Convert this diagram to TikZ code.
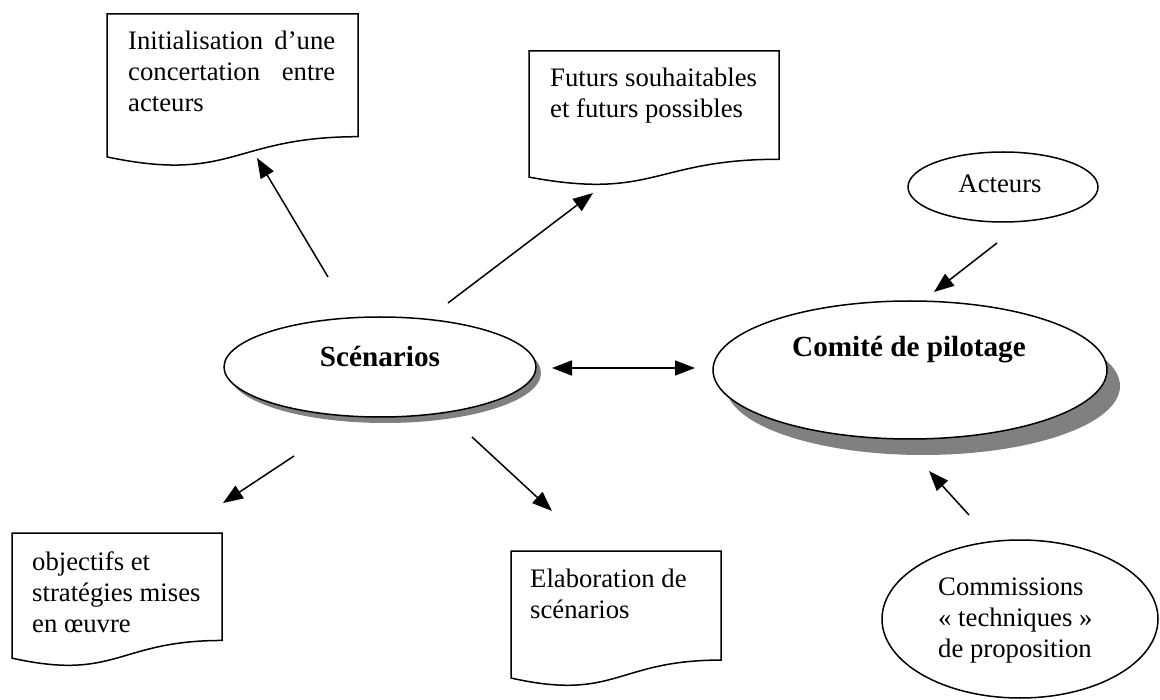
\documentclass[tikz,border=0pt]{standalone}
\usepackage{fontspec}
\setmainfont{Liberation Serif}
\usetikzlibrary{shapes.geometric,arrows.meta}

% Flowchart "document" outline: x, y (top left), width, height
\newcommand\docshape[4]{%
  \draw[docline] (#1,#2) -- ({#1+#3},#2) -- ({#1+#3},{#2+0.802*#4})
    .. controls ({#1+0.5*#3},{#2+0.802*#4}) and ({#1+0.5*#3},{#2+1.1075*#4})
    .. (#1,{#2+0.934*#4}) -- cycle;}

\begin{document}
\begin{tikzpicture}[x=1pt,y=-1pt,
  docline/.style={line width=1.5pt, line join=miter},
  txt/.style={anchor=base west, inner sep=0pt, font=\fontsize{26.7}{31}\selectfont},
  bubble/.style={ellipse, draw, line width=1.5pt, fill=white, inner sep=0pt},
  shade/.style={ellipse, fill=black!50, draw=none, inner sep=0pt},
  title/.style={anchor=base, inner sep=0pt, font=\fontsize{29.2}{34}\selectfont\bfseries},
  arr/.style={line width=1.5pt, -{Triangle[length=20pt,width=15pt]}},
  darr/.style={line width=1.5pt, {Triangle[length=20pt,width=15pt]}-{Triangle[length=20pt,width=15pt]}},
]
\useasboundingbox (0,0) rectangle (1160,700);

% document boxes
\docshape{107}{14}{251}{153}
\node[txt] (init) at (128,50) {\parbox[t]{207pt}{Initialisation\hfill d’une\\concertation\hfill entre\\acteurs}};

\docshape{529}{51}{250}{135}
\node[txt] (futurs) at (550,87) {\parbox[t]{215pt}{Futurs souhaitables\\et futurs possibles}};

\docshape{12}{533}{210}{134}
\node[txt] (objectifs) at (32,570) {\parbox[t]{180pt}{objectifs et\\stratégies mises\\en œuvre}};

\docshape{511}{551}{210}{136}
\node[txt] (elab) at (530,587) {\parbox[t]{180pt}{Elaboration de\\scénarios}};

% ellipses
\node[shade, minimum width=312pt, minimum height=100pt] (scenS) at (385,373) {};
\node[bubble, minimum width=312pt, minimum height=100pt] (scen) at (380,367) {};
\node[title] (scenT) at (380,367) {Scénarios};

\node[shade, minimum width=394pt, minimum height=138pt] (comS) at (923,386) {};
\node[bubble, minimum width=394pt, minimum height=138pt] (com) at (910,370) {};
\node[title] (comT) at (909,357) {Comité de pilotage};

\node[bubble, minimum width=190pt, minimum height=70pt] (act) at (1003,187) {};
\node[txt, anchor=base] (actT) at (1000,193) {Acteurs};

\node[bubble, minimum width=276pt, minimum height=158pt] (comm) at (1020,619) {};
\node[txt] (commT) at (938,595) {\parbox[t]{160pt}{Commissions\\« techniques »\\de proposition}};

% arrow end points
\coordinate (a1s) at (328,277); \coordinate (a1e) at (257,158);
\coordinate (a2s) at (448,303); \coordinate (a2e) at (593,193);
\coordinate (dL) at (552,368);  \coordinate (dR) at (695,368);
\coordinate (a4s) at (997,243); \coordinate (a4e) at (934,292);
\coordinate (a5s) at (969,515); \coordinate (a5e) at (929,471);
\coordinate (a6s) at (294,456); \coordinate (a6e) at (223,503);
\coordinate (a7s) at (472,437); \coordinate (a7e) at (552,511);

\draw[arr] (a1s) -- (a1e);
\draw[arr] (a2s) -- (a2e);
\draw[darr] (dL) -- (dR);
\draw[arr] (a4s) -- (a4e);
\draw[arr] (a5s) -- (a5e);
\draw[arr] (a6s) -- (a6e);
\draw[arr] (a7s) -- (a7e);
\end{tikzpicture}
\end{document}
